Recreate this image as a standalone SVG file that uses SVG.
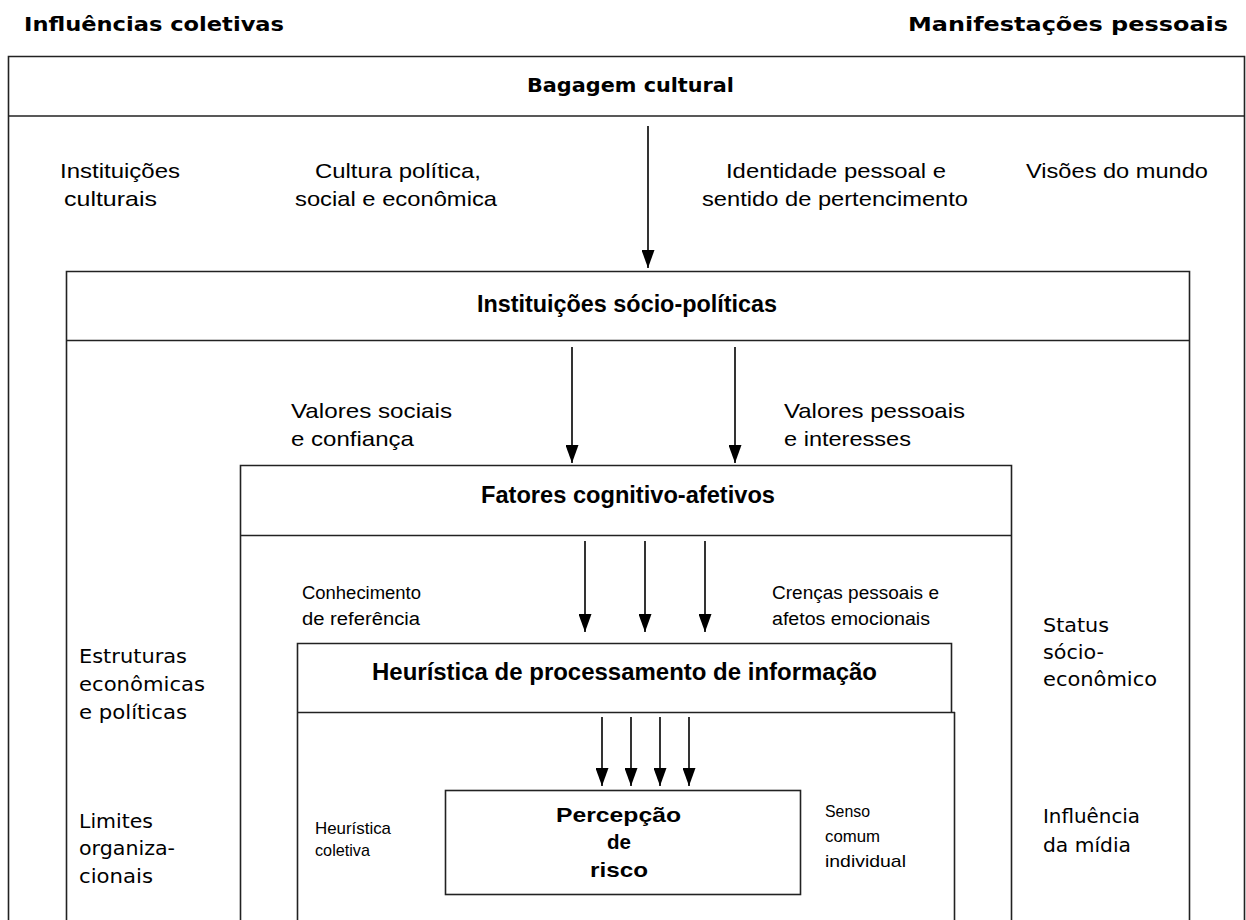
<svg xmlns="http://www.w3.org/2000/svg" width="1246" height="920" viewBox="0 0 1246 920">
<defs>
<marker id="ah" markerUnits="userSpaceOnUse" markerWidth="18" markerHeight="13" refX="18" refY="6.5" orient="auto" viewBox="0 0 18 13">
<path d="M0,0 L18,6.5 L0,13 Z" fill="#000"/>
</marker>
</defs>
<style>
.box{fill:none;stroke:#222;stroke-width:1.6}
.hd{font-family:"DejaVu Sans",Verdana,sans-serif;font-weight:bold;font-size:20px;fill:#000}
.bt{font-family:"Liberation Sans",Arial,sans-serif;font-weight:bold;font-size:23px;fill:#000}
.pr{font-family:"Liberation Sans",Arial,sans-serif;font-weight:bold;font-size:21px;fill:#000}
.rn{font-family:"Liberation Sans",Arial,sans-serif;font-size:21px;fill:#000}
.sm{font-family:"Liberation Sans",Arial,sans-serif;font-size:18px;fill:#000}
.xs{font-family:"Liberation Sans",Arial,sans-serif;font-size:17px;fill:#000}
.vd{font-family:"DejaVu Sans",Verdana,sans-serif;font-size:20px;fill:#000}
.conn path{stroke:#000;stroke-width:1.6;fill:none}
</style>
<rect width="1246" height="920" fill="#fff"/>

<g id="title-left"><text class="hd" x="24" y="31" textLength="260" lengthAdjust="spacingAndGlyphs">Influências coletivas</text></g>
<g id="title-right"><text class="hd" x="908" y="31" textLength="320" lengthAdjust="spacingAndGlyphs">Manifestações pessoais</text></g>

<g id="bagagem">
<path class="box" d="M8.5,960 V56.5 H1244.5 V960"/>
<line class="box" x1="8.5" y1="116" x2="1244.5" y2="116"/>
<text class="hd" x="527" y="92" textLength="207" lengthAdjust="spacingAndGlyphs">Bagagem cultural</text>
</g>

<g id="lbl-instituicoes-culturais">
<text class="rn" x="60" y="178" textLength="120" lengthAdjust="spacingAndGlyphs">Instituições</text>
<text class="rn" x="64" y="206" textLength="93" lengthAdjust="spacingAndGlyphs">culturais</text>
</g>
<g id="lbl-cultura">
<text class="rn" x="315" y="178" textLength="166" lengthAdjust="spacingAndGlyphs">Cultura política,</text>
<text class="rn" x="295" y="206" textLength="202" lengthAdjust="spacingAndGlyphs">social e econômica</text>
</g>
<g id="lbl-identidade">
<text class="rn" x="726" y="178" textLength="220" lengthAdjust="spacingAndGlyphs">Identidade pessoal e</text>
<text class="rn" x="702" y="206" textLength="266" lengthAdjust="spacingAndGlyphs">sentido de pertencimento</text>
</g>
<g id="lbl-visoes">
<text class="rn" x="1026" y="178" textLength="182" lengthAdjust="spacingAndGlyphs">Visões do mundo</text>
</g>

<g id="socio-politicas">
<path class="box" d="M66.5,960 V271.5 H1189.5 V960"/>
<line class="box" x1="66.5" y1="340.5" x2="1189.5" y2="340.5"/>
<text class="bt" x="477" y="312" textLength="300" lengthAdjust="spacingAndGlyphs">Instituições sócio-políticas</text>
</g>

<g id="lbl-valores-sociais">
<text class="rn" x="291" y="418" textLength="161" lengthAdjust="spacingAndGlyphs">Valores sociais</text>
<text class="rn" x="291" y="446" textLength="123" lengthAdjust="spacingAndGlyphs">e confiança</text>
</g>
<g id="lbl-valores-pessoais">
<text class="rn" x="784" y="418" textLength="181" lengthAdjust="spacingAndGlyphs">Valores pessoais</text>
<text class="rn" x="784" y="446" textLength="127" lengthAdjust="spacingAndGlyphs">e interesses</text>
</g>

<g id="fatores">
<path class="box" d="M240.5,960 V465.5 H1011.5 V960"/>
<line class="box" x1="240.5" y1="535.5" x2="1011.5" y2="535.5"/>
<text class="bt" x="481" y="503" textLength="294" lengthAdjust="spacingAndGlyphs">Fatores cognitivo-afetivos</text>
</g>

<g id="lbl-conhecimento">
<text class="sm" x="302" y="599" textLength="119" lengthAdjust="spacingAndGlyphs">Conhecimento</text>
<text class="sm" x="302" y="625" textLength="118" lengthAdjust="spacingAndGlyphs">de referência</text>
</g>
<g id="lbl-crencas">
<text class="sm" x="772" y="599" textLength="167" lengthAdjust="spacingAndGlyphs">Crenças pessoais e</text>
<text class="sm" x="772" y="625" textLength="158" lengthAdjust="spacingAndGlyphs">afetos emocionais</text>
</g>

<g id="heuristica">
<path class="box" d="M297.5,960 V643.5 H951.5 V712"/>
<line class="box" x1="297.5" y1="712.5" x2="955" y2="712.5"/>
<line class="box" x1="954.5" y1="712" x2="954.5" y2="960"/>
<text class="bt" x="372" y="680" textLength="505" lengthAdjust="spacingAndGlyphs">Heurística de processamento de informação</text>
</g>

<g id="lbl-heuristica-coletiva">
<text class="xs" x="315" y="834" textLength="76" lengthAdjust="spacingAndGlyphs">Heurística</text>
<text class="xs" x="315" y="856" textLength="55" lengthAdjust="spacingAndGlyphs">coletiva</text>
</g>
<g id="lbl-senso">
<text class="xs" x="825" y="817" textLength="45" lengthAdjust="spacingAndGlyphs">Senso</text>
<text class="xs" x="825" y="842" textLength="55" lengthAdjust="spacingAndGlyphs">comum</text>
<text class="xs" x="825" y="867" textLength="81" lengthAdjust="spacingAndGlyphs">individual</text>
</g>

<g id="percepcao">
<rect class="box" x="445.5" y="790.5" width="355" height="104"/>
<text class="pr" x="556" y="822" textLength="125" lengthAdjust="spacingAndGlyphs">Percepção</text>
<text class="pr" x="607" y="849" textLength="24" lengthAdjust="spacingAndGlyphs">de</text>
<text class="pr" x="590" y="877" textLength="58" lengthAdjust="spacingAndGlyphs">risco</text>
</g>

<g id="lbl-estruturas">
<text class="vd" x="79" y="663" textLength="108" lengthAdjust="spacingAndGlyphs">Estruturas</text>
<text class="vd" x="79" y="691" textLength="126" lengthAdjust="spacingAndGlyphs">econômicas</text>
<text class="vd" x="79" y="719" textLength="108" lengthAdjust="spacingAndGlyphs">e políticas</text>
</g>
<g id="lbl-limites">
<text class="vd" x="79" y="828" textLength="74" lengthAdjust="spacingAndGlyphs">Limites</text>
<text class="vd" x="79" y="855" textLength="96" lengthAdjust="spacingAndGlyphs">organiza-</text>
<text class="vd" x="79" y="883" textLength="74" lengthAdjust="spacingAndGlyphs">cionais</text>
</g>
<g id="lbl-status">
<text class="vd" x="1043" y="632" textLength="66" lengthAdjust="spacingAndGlyphs">Status</text>
<text class="vd" x="1043" y="659" textLength="61" lengthAdjust="spacingAndGlyphs">sócio-</text>
<text class="vd" x="1043" y="686" textLength="114" lengthAdjust="spacingAndGlyphs">econômico</text>
</g>
<g id="lbl-midia">
<text class="vd" x="1043" y="823" textLength="97" lengthAdjust="spacingAndGlyphs">Influência</text>
<text class="vd" x="1043" y="852" textLength="88" lengthAdjust="spacingAndGlyphs">da mídia</text>
</g>

<g id="connectors" class="conn">
<path d="M648,126 V268" marker-end="url(#ah)"/>
<path d="M572,347 V463" marker-end="url(#ah)"/>
<path d="M735,347 V463" marker-end="url(#ah)"/>
<path d="M585,541 V632" marker-end="url(#ah)"/>
<path d="M645,541 V632" marker-end="url(#ah)"/>
<path d="M705,541 V632" marker-end="url(#ah)"/>
<path d="M602,717 V786" marker-end="url(#ah)"/>
<path d="M631,717 V786" marker-end="url(#ah)"/>
<path d="M660,717 V786" marker-end="url(#ah)"/>
<path d="M689,717 V786" marker-end="url(#ah)"/>
</g>
</svg>
